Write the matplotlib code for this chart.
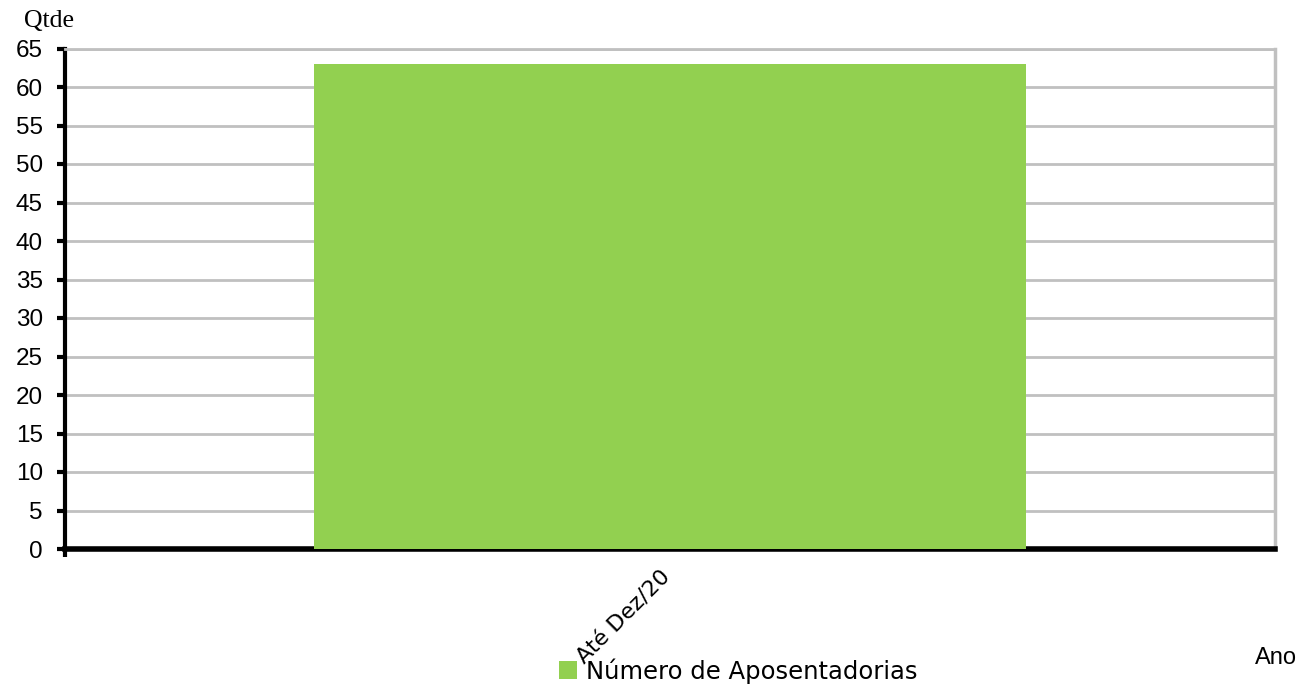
import matplotlib
matplotlib.use("Agg")
import matplotlib.pyplot as plt
import matplotlib.transforms as mtransforms
from matplotlib.patches import Patch

categories = ["Até Dez/20"]
values = [63]
series_name = "Número de Aposentadorias"
yticks = list(range(0, 70, 5))

fig = plt.figure(figsize=(12.98, 6.88), dpi=100)
ax = fig.add_axes([65/1298, 1-549/688, (1275-65)/1298, (549-48.5)/688])

x = list(range(len(categories)))
ax.bar(x, values, width=0.588, color="#92d050", zorder=3)
ax.set_xlim(-0.5, len(categories)-0.5)
ax.set_ylim(0, 65)
ax.set_yticks(yticks)
ax.set_yticklabels([str(t) for t in yticks], fontsize=17.5, family="Liberation Sans")
ax.yaxis.grid(True, color="#c0c0c0", linewidth=2, zorder=0)
ax.tick_params(axis="y", length=6, width=3, color="black", pad=10)
ax.set_xticks(x)
ax.set_xticklabels(categories, rotation=45, ha="right", va="center",
                   rotation_mode="anchor", fontsize=16, family="DejaVu Sans")
ax.tick_params(axis="x", which="major", length=0, pad=18)
for lab in ax.get_xticklabels():
    lab.set_transform(lab.get_transform() +
                      mtransforms.ScaledTranslation(-3/100, 0, fig.dpi_scale_trans))
ax.set_xticks([-0.5], minor=True)
ax.tick_params(axis="x", which="minor", length=6, width=3, color="black")

ax.spines["left"].set_linewidth(3)
ax.spines["bottom"].set_linewidth(4)
ax.spines["left"].set_color("black")
ax.spines["bottom"].set_color("black")
ax.spines["top"].set_color("#c0c0c0")
ax.spines["right"].set_color("#c0c0c0")
ax.spines["top"].set_linewidth(2)
ax.spines["right"].set_linewidth(2.5)

fig.text(24/1298, 1-21/688, "Qtde", family="Liberation Serif", fontsize=18.5, va="center", ha="left")
fig.text(1297/1298, 1-658/688, "Ano", family="Liberation Sans", fontsize=17, va="center", ha="right")

handles = [Patch(facecolor="#92d050", edgecolor="none")]
fig.legend(handles, [series_name], loc="center", bbox_to_anchor=(738/1298, 1-671/688),
           frameon=False, handlelength=0.75, handleheight=0.75,
           handletextpad=0.35, borderpad=0, prop={"family": "DejaVu Sans", "size": 17.5})

fig.savefig("out.png", dpi=100)
